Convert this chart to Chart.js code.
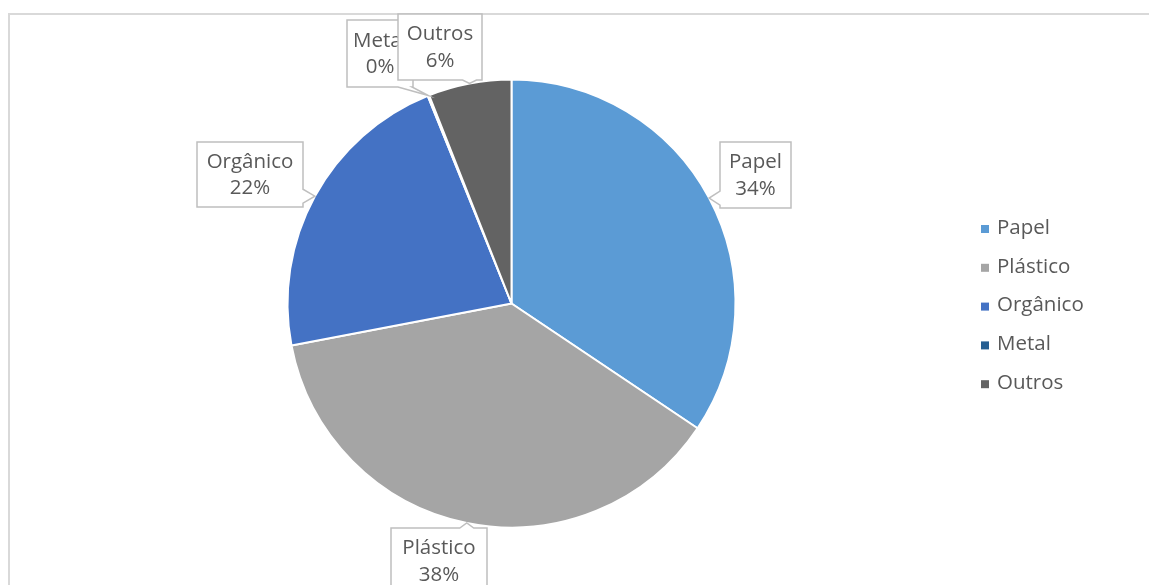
<!DOCTYPE html>
<html>
<head>
<meta charset="utf-8">
<script src="https://cdn.jsdelivr.net/npm/chart.js@4.4.1/dist/chart.umd.min.js"></script>
<style>
  html, body { margin: 0; padding: 0; background: #ffffff; overflow: hidden; }
  #wrap { position: relative; width: 1149px; height: 585px; }
  #frame { position: absolute; left: 8px; top: 13px; width: 1200px; height: 700px;
           border: 2px solid #d9d9d9; box-sizing: border-box; }
  canvas { position: absolute; left: 0; top: 0; }
</style>
</head>
<body>
<div id="wrap">
  <div id="frame"></div>
  <canvas id="chart" width="1149" height="585"></canvas>
</div>
<script>
// Composição dos resíduos (%)
const categories = ['Papel', 'Plástico', 'Orgânico', 'Metal', 'Outros'];
const shares = [34.4, 37.6, 21.9, 0.1, 6.0];
const sliceColors = ['#5B9BD5', '#A5A5A5', '#4472C4', '#255E91', '#636363'];

// Caixas dos rótulos de dados: [esquerda, topo, largura, altura]
const labelBoxes = [
  [720, 142, 71, 66],
  [391, 528, 96, 66],
  [197, 142, 106, 65],
  [347, 20, 66, 67],
  [398, 14, 84, 66]
];
// ordem de desenho (Outros por cima de Metal)
const labelOrder = [0, 1, 2, 3, 4];

const FONT = '20.5px "Open Sans", "Noto Sans", sans-serif';
const TEXT = '#595959';

function calloutPath(ctx, box, tip) {
  const [x, y, w, h] = box;
  const x2 = x + w, y2 = y + h;
  const half = 7;
  const clamp = (v, a, b) => Math.max(a, Math.min(b, v));
  let side = null;
  if (tip.y > y2) side = 'bottom';
  else if (tip.y < y) side = 'top';
  else if (tip.x < x) side = 'left';
  else if (tip.x > x2) side = 'right';

  ctx.beginPath();
  ctx.moveTo(x, y);
  if (side === 'top') {
    const c = clamp(tip.x, x + half + 1, x2 - half - 1);
    ctx.lineTo(c - half, y); ctx.lineTo(tip.x, tip.y); ctx.lineTo(c + half, y);
  }
  ctx.lineTo(x2, y);
  if (side === 'right') {
    const c = clamp(tip.y, y + half + 1, y2 - half - 1);
    ctx.lineTo(x2, c - half); ctx.lineTo(tip.x, tip.y); ctx.lineTo(x2, c + half);
  }
  ctx.lineTo(x2, y2);
  if (side === 'bottom') {
    const c = clamp(tip.x, x + half + 1, x2 - half - 1);
    ctx.lineTo(c + half, y2); ctx.lineTo(tip.x, tip.y); ctx.lineTo(c - half, y2);
  }
  ctx.lineTo(x, y2);
  if (side === 'left') {
    const c = clamp(tip.y, y + half + 1, y2 - half - 1);
    ctx.lineTo(x, c + half); ctx.lineTo(tip.x, tip.y); ctx.lineTo(x, c - half);
  }
  ctx.closePath();
}

const calloutLabels = {
  id: 'calloutLabels',
  afterDatasetsDraw(chart) {
    const ctx = chart.ctx;
    const meta = chart.getDatasetMeta(0);
    const data = chart.data.datasets[0].data;
    const total = data.reduce((a, b) => a + b, 0);
    ctx.save();
    labelOrder.forEach(i => {
      const arc = meta.data[i];
      const p = arc.getProps(['x', 'y', 'startAngle', 'endAngle', 'outerRadius'], true);
      const mid = (p.startAngle + p.endAngle) / 2;
      const tip = { x: p.x + Math.cos(mid) * p.outerRadius, y: p.y + Math.sin(mid) * p.outerRadius };
      const box = labelBoxes[i];
      calloutPath(ctx, box, tip);
      ctx.fillStyle = '#ffffff';
      ctx.fill();
      ctx.lineWidth = 1.5;
      ctx.strokeStyle = '#bfbfbf';
      ctx.stroke();

      const pct = Math.round(data[i] / total * 100) + '%';
      ctx.fillStyle = TEXT;
      ctx.font = FONT;
      ctx.textAlign = 'center';
      ctx.textBaseline = 'middle';
      const cx = box[0] + box[2] / 2;
      const cy = box[1] + box[3] / 2;
      ctx.fillText(chart.data.labels[i], cx, cy - 12.5);
      ctx.fillText(pct, cx, cy + 14);
    });
    ctx.restore();
  }
};

const sideLegend = {
  id: 'sideLegend',
  afterDraw(chart) {
    const ctx = chart.ctx;
    const colors = chart.data.datasets[0].backgroundColor;
    ctx.save();
    ctx.font = FONT;
    ctx.textAlign = 'left';
    ctx.textBaseline = 'middle';
    chart.data.labels.forEach((lab, i) => {
      const cy = 229 + i * 38.8;
      ctx.fillStyle = colors[i];
      ctx.fillRect(981, cy - 4, 8, 8);
      ctx.fillStyle = TEXT;
      ctx.fillText(lab, 997, cy - 1);
    });
    ctx.restore();
  }
};

new Chart(document.getElementById('chart'), {
  type: 'pie',
  data: {
    labels: categories,
    datasets: [{
      data: shares,
      backgroundColor: sliceColors,
      borderColor: '#ffffff',
      borderWidth: 2
    }]
  },
  options: {
    responsive: false,
    animation: false,
    radius: 224,
    layout: { padding: { left: 0, right: 126, top: 22, bottom: 0 } },
    plugins: {
      legend: { display: false },
      tooltip: { enabled: false }
    }
  },
  plugins: [calloutLabels, sideLegend]
});
</script>
</body>
</html>
